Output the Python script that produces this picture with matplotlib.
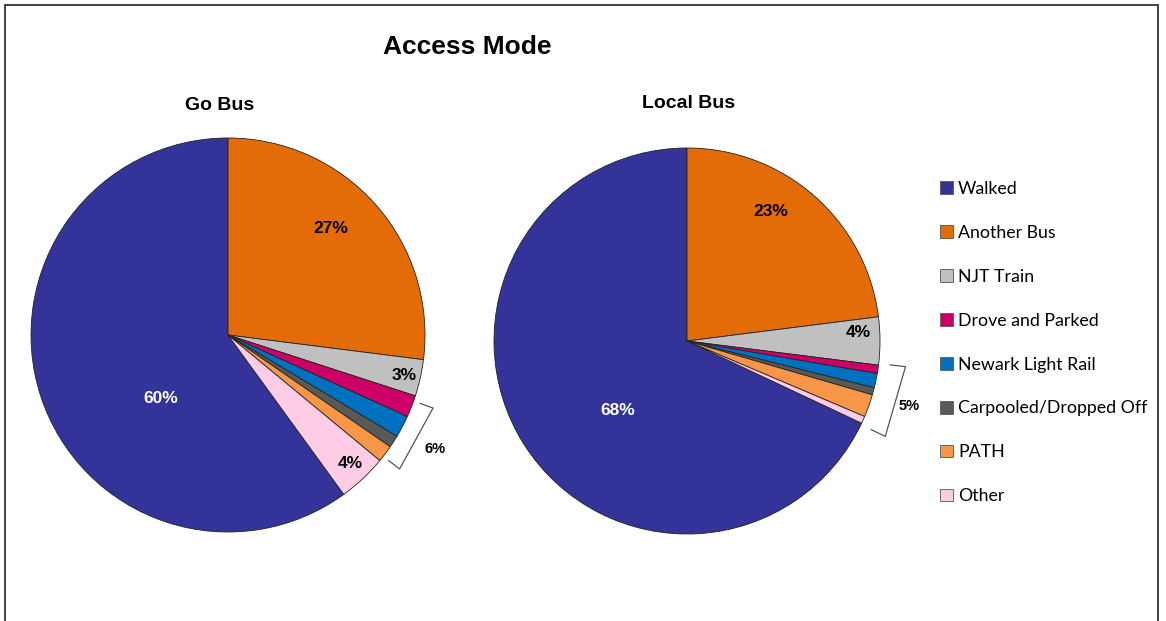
import numpy as np
import matplotlib
matplotlib.use('Agg')
import matplotlib.pyplot as plt
from matplotlib.patches import Patch, Rectangle

modes = ['Walked', 'Another Bus', 'NJT Train', 'Drove and Parked',
         'Newark Light Rail', 'Carpooled/Dropped Off', 'PATH', 'Other']
colors = ['#333399', '#E36C09', '#C0C0C0', '#CC0066',
          '#0070C0', '#595959', '#F79646', '#FFCCE5']

go_bus = [60, 27, 3, 1.8, 1.8, 1.0, 1.4, 4]
local_bus = [68, 23, 4, 0.7, 1.2, 0.6, 1.9, 0.6]

# slices grouped under a bracket with one combined label
go_group = [3, 4, 5, 6]
local_group = [3, 4, 5, 6, 7]

fig = plt.figure(figsize=(11.66, 6.21), dpi=100)
fig.patch.set_facecolor('white')
fig.patches.append(Rectangle((5 / 1166, -0.05), 1153 / 1166, 1.05 - 5 / 621,
                             transform=fig.transFigure, fill=False,
                             edgecolor='#333333', lw=1.3))

fig.text(467 / 1166, 1 - 47 / 621, 'Access Mode', ha='center', va='center',
         fontsize=19, fontweight='bold', family='Liberation Sans')


def wedge_angles(values, start):
    # clockwise from start, returns (theta1, theta2) per slice in degrees
    total = sum(values)
    edges = start - 360 * np.concatenate([[0], np.cumsum(values)]) / total
    return list(zip(edges[:-1], edges[1:]))


def draw_pie(rect, values, title, title_xy, labels, group, group_style):
    ax = fig.add_axes(rect)
    start = 90 + 360 * values[0] / sum(values)
    ax.pie(values, colors=colors, startangle=start, counterclock=False,
           radius=1, wedgeprops=dict(edgecolor='#222222', linewidth=0.6))
    ax.set_xlim(-1, 1)
    ax.set_ylim(-1, 1)
    ax.set_aspect('auto')
    ax.axis('off')
    fig.text(title_xy[0] / 1166, 1 - title_xy[1] / 621, title, ha='center',
             va='center', fontsize=14, fontweight='bold', family='Liberation Sans')

    angles = wedge_angles(values, start)
    for idx, r, ang, color in labels:
        a = np.radians(ang)
        ax.text(r * np.cos(a), r * np.sin(a), f'{values[idx]:.0f}%',
                ha='center', va='center', fontsize=12.5, fontweight='bold',
                color=color, family='Liberation Sans')

    # bracket around the small slices
    top = angles[group[0]][0]
    bottom = angles[group[-1]][1]
    r_in, r_out, pad, r_lab = group_style
    a1, a2 = np.radians(top - pad), np.radians(bottom + pad)
    xs = [r_in * np.cos(a1), r_out * np.cos(a1), r_out * np.cos(a2), r_in * np.cos(a2)]
    ys = [r_in * np.sin(a1), r_out * np.sin(a1), r_out * np.sin(a2), r_in * np.sin(a2)]
    ax.plot(xs, ys, color='#555555', lw=0.9, clip_on=False)
    mid = np.radians((top + bottom) / 2)
    group_total = sum(values[i] for i in group)
    ax.text(r_lab * np.cos(mid), r_lab * np.sin(mid), f'{group_total:.0f}%',
            ha='center', va='center', fontsize=10.5, fontweight='bold',
            family='Liberation Sans', clip_on=False)
    return ax


draw_pie([31 / 1166, 89 / 621, 394 / 1166, 394 / 621], go_bus, 'Go Bus', (220, 106),
         [(0, 0.47, 223, 'white'), (1, 0.75, 46, 'black'),
          (2, 0.92, -13, 'black'), (7, 0.9, -46.5, 'black')],
         go_group, (1.035, 1.105, 1.6, 1.2))

draw_pie([494 / 1166, 87 / 621, 386 / 1166, 386 / 621], local_bus, 'Local Bus', (689, 104),
         [(0, 0.51, 225, 'white'), (1, 0.8, 57, 'black'),
          (2, 0.89, 2.7, 'black')],
         local_group, (1.06, 1.14, -0.5, 1.2))

handles = [Patch(facecolor=c, edgecolor='#555555', linewidth=0.6) for c in colors]
fig.legend(handles, modes, loc='upper left', bbox_to_anchor=(931 / 1166, 1 - 172 / 621),
           frameon=False, prop={'family': 'Lato', 'size': 12.8},
           handlelength=0.72, handleheight=0.72, handletextpad=0.3,
           labelspacing=1.57, borderpad=0)

fig.savefig('out.png', dpi=100, facecolor='white')
